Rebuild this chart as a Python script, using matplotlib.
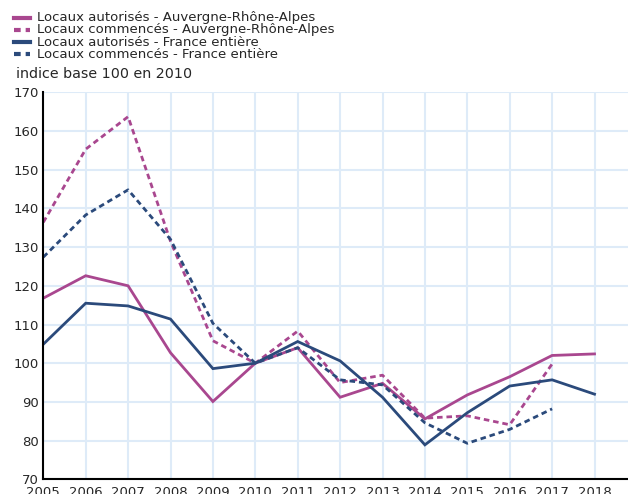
import matplotlib
matplotlib.use("Agg")
import matplotlib.pyplot as plt
from matplotlib.lines import Line2D

plt.rcParams['font.family'] = ['DejaVu Sans']

years = list(range(2005, 2019))
years_started = list(range(2005, 2018))

aut_ara = [116.8, 122.6, 120.0, 102.7, 90.1, 100.0, 104.0, 91.2, 94.8, 85.6, 91.8, 96.5, 102.0, 102.4]
com_ara = [136.4, 155.3, 163.7, 131.5, 105.8, 100.0, 108.3, 95.0, 96.9, 85.8, 86.4, 84.1, 99.8]
aut_fr = [104.9, 115.5, 114.8, 111.4, 98.6, 100.0, 105.6, 100.6, 91.2, 78.9, 87.2, 94.1, 95.7, 92.0]
com_fr = [127.4, 138.3, 144.8, 132.0, 110.3, 100.0, 104.0, 95.7, 94.4, 84.6, 79.3, 82.9, 88.2]

labels = ["Locaux autorisés - Auvergne-Rhône-Alpes",
          "Locaux commencés - Auvergne-Rhône-Alpes",
          "Locaux autorisés - France entière",
          "Locaux commencés - France entière"]
y_title = "indice base 100 en 2010"
y_ticks = [70, 80, 90, 100, 110, 120, 130, 140, 150, 160, 170]

pink = "#a9478f"
blue = "#2b4a7b"
grid_c = "#deebf8"
txt_c = "#262626"

W, H = 628, 494
fig = plt.figure(figsize=(W / 100, H / 100), dpi=100)
left_px, right_px, top_px, bot_px = 43.3, 628, 92.3, 479.3
ax = fig.add_axes([left_px / W, 1 - bot_px / H, (right_px - left_px) / W, (bot_px - top_px) / H])

lw = 2.0
dash = (2.0, 1.4)
series = [
    (years, aut_ara, pink, '-'),
    (years_started, com_ara, pink, '--'),
    (years, aut_fr, blue, '-'),
    (years_started, com_fr, blue, '--'),
]
for x, y, c, ls in series:
    ln, = ax.plot(x, y, color=c, lw=lw, ls=ls, solid_joinstyle='miter')
    if ls == '--':
        ln.set_dashes(dash)

ax.set_xlim(2005, 2005 + (right_px - left_px) / 42.4)
ax.set_ylim(70, 170)
ax.set_xticks(years)
ax.set_xticklabels([str(y) for y in years])
ax.set_yticks(y_ticks)
ax.grid(True, color=grid_c, lw=1.5)
ax.set_axisbelow(True)
for s in ['top', 'right']:
    ax.spines[s].set_visible(False)
for s in ['left', 'bottom']:
    ax.spines[s].set_color('black')
    ax.spines[s].set_linewidth(1.5)
ax.tick_params(axis='x', length=0, pad=5, labelsize=9.5, colors=txt_c)
ax.tick_params(axis='y', length=0, pad=3, labelsize=9.5, colors=txt_c)

# legend (manual)
leg_y = [18, 30, 42, 54]
for (x, y, c, ls), lab, ly in zip(series, labels, leg_y):
    yy = 1 - ly / H
    l = Line2D([14 / W, 30 / W], [yy, yy], transform=fig.transFigure, color=c, lw=3.0)
    if ls == '--':
        l.set_linestyle('--')
        l.set_dashes((1.6, 1.2))
    fig.add_artist(l)
    fig.text(37 / W, yy, lab, fontsize=9.5, va='center', ha='left', color=txt_c)

fig.text(16 / W, 1 - 74 / H, y_title, fontsize=10.3, va='center', ha='left', color=txt_c)

fig.savefig("out.png", dpi=100)
